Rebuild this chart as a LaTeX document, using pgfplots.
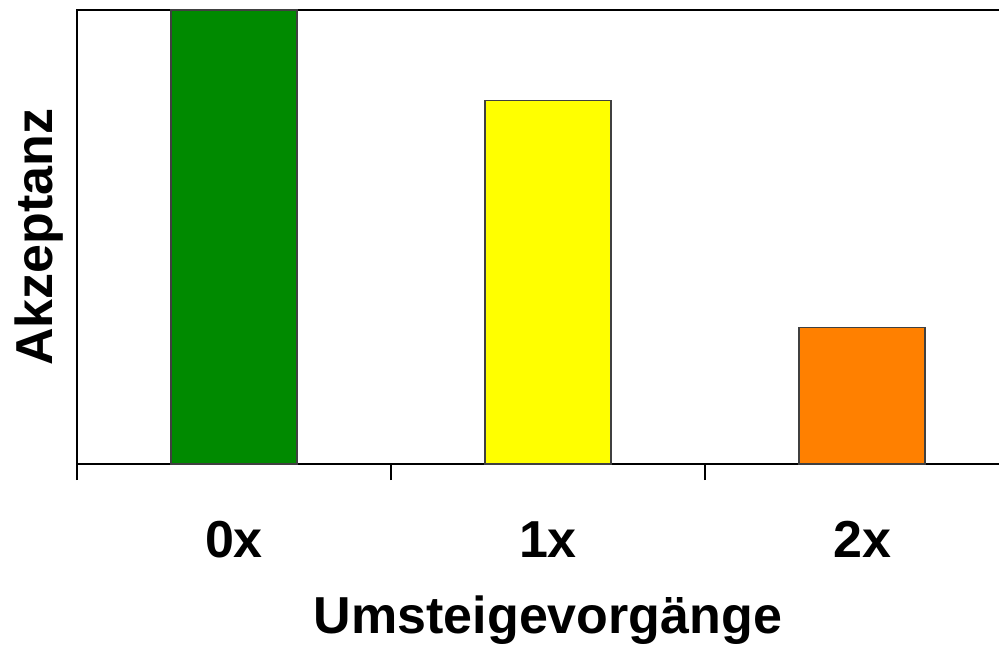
\documentclass[border=0pt]{standalone}
\usepackage{pgfplots}
\pgfplotsset{compat=1.18}
\usepackage{fontspec}
\setmainfont{Liberation Sans}
\definecolor{cgreen}{RGB}{0,138,0}
\definecolor{cyellow}{RGB}{255,255,0}
\definecolor{corange}{RGB}{255,128,0}
\begin{document}
\begin{tikzpicture}
\begin{axis}[
  scale only axis,
  width=471pt, height=227pt,
  xmin=-0.5, xmax=2.5, ymin=0, ymax=100,
  axis line style={line width=0.75pt, black},
  ytick=\empty,
  xtick={-0.5,0.5,1.5,2.5},
  xticklabels={},
  xtick pos=lower,
  tick align=outside,
  major tick length=8pt,
  tick style={line width=0.75pt, black},
  extra x ticks={0,1,2},
  extra x tick labels={0x,1x,2x},
  extra x tick style={major tick length=0pt, tick label style={anchor=base, yshift=-46.5pt}},
  xticklabel style={font=\fontsize{26}{30}\selectfont\bfseries},
  xlabel={Umsteigevorgänge},
  ylabel={Akzeptanz},
  xlabel style={at={(axis description cs:0.5,0)}, anchor=base, yshift=-84.5pt, font=\fontsize{26}{30}\selectfont\bfseries},
  ylabel style={at={(axis description cs:0,0.5)}, anchor=center, yshift=19pt, font=\fontsize{26}{30}\selectfont\bfseries},
  ybar, bar width=63pt, bar shift=0pt,
  clip=false,
]
\addplot[fill=cgreen, draw=black!75, line width=0.6pt] coordinates {(0,100)};
\addplot[fill=cyellow, draw=black!75, line width=0.6pt] coordinates {(1,80)};
\addplot[fill=corange, draw=black!75, line width=0.6pt] coordinates {(2,30)};
\end{axis}
\pgfresetboundingbox
\path ([shift={(-38.5pt,-94.5pt)}]current axis.south west) rectangle ([shift={(-10pt,5pt)}]current axis.north east);
\end{tikzpicture}
\end{document}
